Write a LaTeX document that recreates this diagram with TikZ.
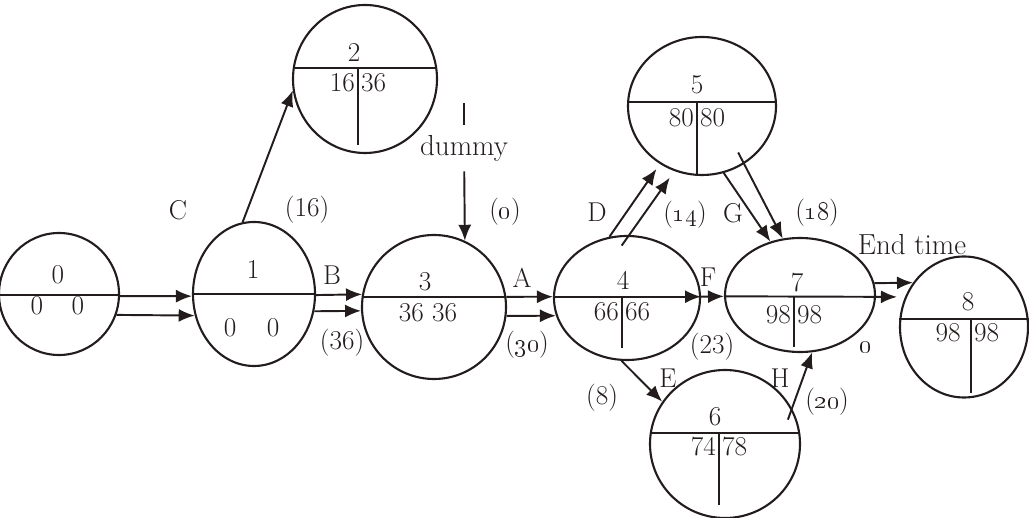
\documentclass[tikz,border=0pt]{standalone}
\usetikzlibrary{arrows.meta,shapes.geometric}
\definecolor{ink}{RGB}{35,28,28}
\tikzset{
  event/.style={draw=ink, ellipse, line width=1.2pt, inner sep=0pt},
  lbl/.style={text=ink, inner sep=1pt, font=\fontsize{15.5}{18}\selectfont},
  arr/.style={draw=ink, line width=1.1pt, -{Latex[length=3.2mm,width=2.6mm]}},
  rule/.style={draw=ink, line width=1.1pt},
}
\begin{document}
\begin{tikzpicture}[x=0.2mm, y=-0.2mm]
  \useasboundingbox (0,0) rectangle (1029,518);

  % events
  \node[event, minimum width=24mm, minimum height=24.4mm] (n0) at (59,294) {};
  \node[event, minimum width=24.4mm, minimum height=28.8mm] (n1) at (254,294) {};
  \node[event, minimum width=28.8mm, minimum height=29.6mm] (n2) at (365,79) {};
  \node[event, minimum width=28.8mm, minimum height=28.8mm] (n3) at (434,307) {};
  \node[event, minimum width=29.2mm, minimum height=24.8mm] (n4) at (627,298) {};
  \node[event, minimum width=29.6mm, minimum height=27.6mm] (n5) at (702,106) {};
  \node[event, minimum width=30mm, minimum height=29.6mm] (n6) at (725,444) {};
  \node[event, minimum width=30mm, minimum height=22.8mm] (n7) at (800,295) {};
  \node[event, minimum width=25.6mm, minimum height=28.2mm] (n8) at (964,327) {};

  % dividers
  \draw[rule] (n0.181) -- (n0.-1);
  \draw[rule] (n1.180) -- (n1.0);
  \draw[rule] (n2.171) -- (n2.9);
  \draw[rule] (n3.172) -- (n3.8);
  \draw[rule] (n5.177) -- (n5.3);
  \draw[rule] (n6.172) -- (n6.8);
  \draw[rule] (n8.173) -- (n8.7);
  \draw[rule] (358,68) -- (358,145);
  \draw[rule] (622,297) -- (622,348);
  \draw[rule] (697,102) -- (697,174);
  \draw[rule] (719,433) -- (719,505);
  \draw[rule] (794,297) -- (794,347);
  \draw[rule] (971,320) -- (971,393);

  % event numbers and times
  \node[lbl] (num0) at (58,275) {0};
  \node[lbl] (es0) at (37,306) {0};
  \node[lbl] (lf0) at (78,306) {0};
  \node[lbl] (num1) at (253,270) {1};
  \node[lbl] (es1) at (230,328) {0};
  \node[lbl] (lf1) at (273,328) {0};
  \node[lbl] (num2) at (354,53) {2};
  \node[lbl, anchor=east] (es2) at (357,83) {16};
  \node[lbl, anchor=west] (lf2) at (359,83) {36};
  \node[lbl] (num3) at (425,282) {3};
  \node[lbl] (es3) at (428,313) {36 36};
  \node[lbl] (num4) at (623,280) {4};
  \node[lbl, anchor=east] (es4) at (621,312) {66};
  \node[lbl, anchor=west] (lf4) at (623,312) {66};
  \node[lbl] (num5) at (697,85) {5};
  \node[lbl, anchor=east] (es5) at (696,118) {80};
  \node[lbl, anchor=west] (lf5) at (698,118) {80};
  \node[lbl] (num6) at (715,417) {6};
  \node[lbl, anchor=east] (es6) at (718,447) {74};
  \node[lbl, anchor=west] (lf6) at (720,447) {78};
  \node[lbl] (num7) at (797,283) {7};
  \node[lbl, anchor=east] (es7) at (793,315) {98};
  \node[lbl, anchor=west] (lf7) at (795,315) {98};
  \node[lbl] (num8) at (968,302) {8};
  \node[lbl] (es8) at (948,333) {98};
  \node[lbl, anchor=west] (lf8) at (972,333) {98};

  % jobs
  \draw[arr] (n0.-2) -- (n1.182);
  \draw[arr] (n0.-20) -- (n1.200);
  \draw[arr] (n1.-1) -- (n3.170);
  \draw[arr] (n1.-16) -- (n3.183);
  \draw[arr] (n3.8) -- (n4.179);
  \draw[arr] (n3.-7) -- (n4.194);
  \draw[arr] (n4.179) -- (n4.1);
  \draw[arr] (n4.1) -- (n7.181);
  \draw[arr, shorten >=1.6mm] (n7.181) -- (n8.153);
  \draw[arr] (n7.9) -- (n8.139);
  \draw[arr] (n1.99) -- (n2.189);
  \draw[arr, shorten >=1.2mm] (n4.106) -- (n5.234);
  \draw[arr, shorten <=-2.6mm, shorten >=1.6mm] (n4.88) -- (n5.247);
  \draw[arr] (n5.-72) -- (n7.119);
  \draw[arr, shorten <=-2.6mm] (n5.-54) -- (n7.107);
  \draw[arr] (n4.-95) -- (n6.146);
  \draw[arr, shorten <=-2.4mm] (n6.28) -- (n7.-78);

  % dummy job
  \coordinate (dtop) at (464,103);
  \node[lbl, inner ysep=2mm, font=\fontsize{16.5}{19}\selectfont] (dlbl) at (464,148) {dummy};
  \draw[rule] (dtop) -- (dlbl);
  \draw[arr] (dlbl) -- (n3.65);

  % job names and durations
  \node[lbl] (labc) at (178,210) {C};
  \node[lbl] (durc) at (307,210) {(16)};
  \node[lbl] (labb) at (332,275) {B};
  \node[lbl] (durb) at (342,343) {(36)};
  \node[lbl] (durd0) at (505,212) {(\oldstylenums{0})};
  \node[lbl] (laba) at (522,278) {A};
  \node[lbl] (dura) at (527,345) {(\oldstylenums{30})};
  \node[lbl] (labd) at (597,212) {D};
  \node[lbl] (durd) at (685,215) {(\oldstylenums{14})};
  \node[lbl] (labg) at (733,213) {G};
  \node[lbl] (durg) at (817,213) {(\oldstylenums{18})};
  \node[lbl] (labf) at (708,277) {F};
  \node[lbl] (durf) at (712,347) {(23)};
  \node[lbl, font=\fontsize{16.5}{19}\selectfont] (endt) at (912,245) {End time};
  \node[lbl] (dure) at (866,347) {\oldstylenums{0}};
  \node[lbl] (labe) at (668,378) {E};
  \node[lbl] (dur8) at (602,398) {(8)};
  \node[lbl] (labh) at (780,378) {H};
  \node[lbl] (durh) at (827,402) {(\oldstylenums{20})};
\end{tikzpicture}
\end{document}
